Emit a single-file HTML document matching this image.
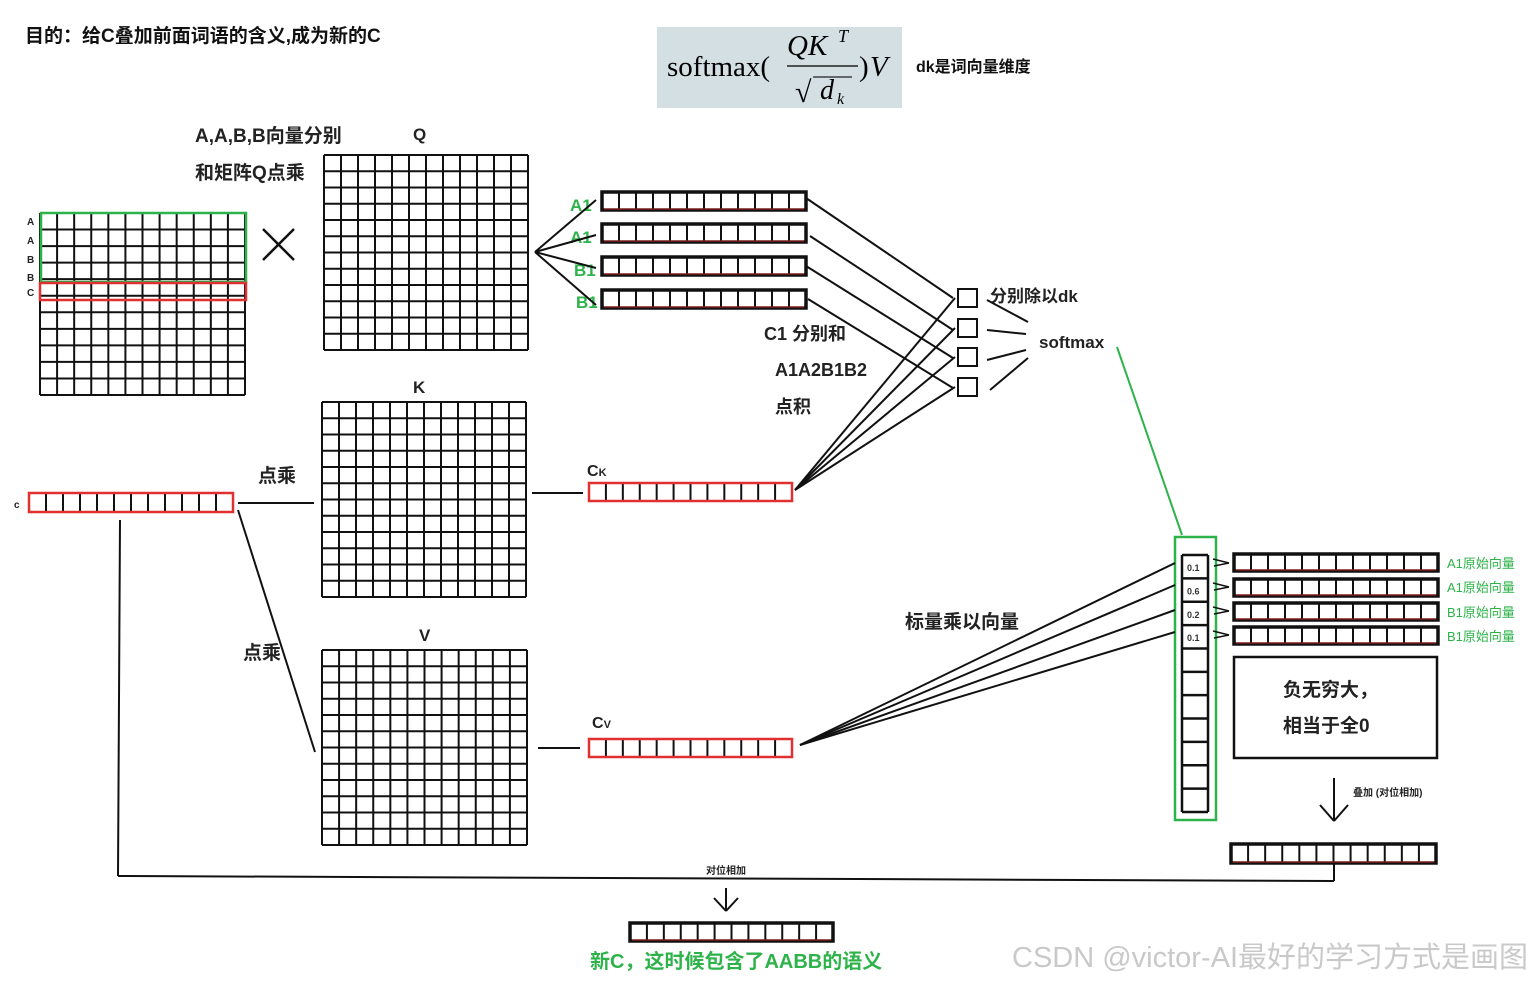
<!DOCTYPE html>
<html><head><meta charset="utf-8">
<style>
html,body{margin:0;padding:0;background:#fff;}
svg{display:block;}
text{font-family:"Liberation Sans","Noto Sans CJK SC",sans-serif;font-weight:bold;}
</style></head>
<body>
<svg id="s" width="1529" height="983" viewBox="0 0 1529 983" xmlns="http://www.w3.org/2000/svg">
<rect width="1529" height="983" fill="#fff"/>
<text x="25" y="42" font-size="19" fill="#111">目的：给C叠加前面词语的含义,成为新的C</text>
<rect x="657" y="27" width="245" height="81" fill="#d3dfe3"/>
<text x="667" y="76" font-size="29" style="font-family:'Liberation Serif',serif;font-weight:normal">softmax(</text>
<text x="787" y="55" style="font-family:'Liberation Serif',serif;font-weight:normal;font-style:italic" font-size="29">QK</text>
<text x="838" y="42" style="font-family:'Liberation Serif',serif;font-weight:normal;font-style:italic" font-size="18">T</text>
<line x1="787" y1="66" x2="858" y2="66" stroke="#222" stroke-width="1.5"/>
<text x="795" y="102" style="font-family:'Liberation Serif',serif;font-weight:normal" font-size="30">√</text>
<line x1="813" y1="77" x2="852" y2="77" stroke="#222" stroke-width="1.3"/>
<text x="820" y="99" style="font-family:'Liberation Serif',serif;font-weight:normal;font-style:italic" font-size="28">d</text>
<text x="837" y="104" style="font-family:'Liberation Serif',serif;font-weight:normal;font-style:italic" font-size="16">k</text>
<text x="859" y="76" style="font-family:'Liberation Serif',serif;font-weight:normal" font-size="29">)</text>
<text x="870" y="76" style="font-family:'Liberation Serif',serif;font-weight:normal;font-style:italic" font-size="29">V</text>
<text x="916" y="72" font-size="16" fill="#111">dk是词向量维度</text>

<text x="195" y="142" font-size="19" fill="#222">A,A,B,B向量分别</text>
<text x="195" y="179" font-size="19" fill="#222">和矩阵Q点乘</text>
<text x="413" y="140" font-size="17" fill="#222">Q</text>
<text x="413" y="393" font-size="17" fill="#222">K</text>
<text x="419" y="641" font-size="17" fill="#222">V</text>
<g font-size="10" fill="#222"><text x="27" y="225">A</text><text x="27" y="244">A</text><text x="27" y="263">B</text><text x="27" y="281">B</text><text x="27" y="296">C</text></g>
<line x1="263" y1="229" x2="294" y2="260" stroke="#111" stroke-width="2.5"/>
<line x1="294" y1="229" x2="263" y2="260" stroke="#111" stroke-width="2.5"/>
<text x="14" y="508" font-size="10" fill="#222">c</text>
<text x="258" y="482" font-size="19" fill="#222">点乘</text>
<text x="243" y="659" font-size="19" fill="#222">点乘</text>
<text x="587" y="476" font-size="16" fill="#222">C<tspan font-size="11">K</tspan></text>
<text x="592" y="728" font-size="16" fill="#222">C<tspan font-size="11">V</tspan></text>
<g font-size="17" fill="#2db34a"><text x="570" y="211">A1</text><text x="570" y="243">A1</text><text x="574" y="276">B1</text><text x="576" y="308">B1</text></g>
<g font-size="18" fill="#222"><text x="764" y="340">C1 分别和</text><text x="775" y="376">A1A2B1B2</text><text x="775" y="413">点积</text>
<text x="990" y="302" font-size="17">分别除以dk</text><text x="1039" y="348" font-size="17">softmax</text>
<text x="905" y="628" font-size="19">标量乘以向量</text>
<text x="1283" y="696" font-size="19">负无穷大，</text><text x="1283" y="732" font-size="19">相当于全0</text></g>
<g font-size="13" fill="#2db34a"><text x="1447" y="568" style="font-weight:normal">A1原始向量</text><text x="1447" y="592" style="font-weight:normal">A1原始向量</text><text x="1447" y="617" style="font-weight:normal">B1原始向量</text><text x="1447" y="641" style="font-weight:normal">B1原始向量</text></g>
<text x="1353" y="796" font-size="10" fill="#222">叠加 (对位相加)</text>
<text x="706" y="874" font-size="10" fill="#222">对位相加</text>
<text x="590" y="968" font-size="20" fill="#2db34a">新C，这时候包含了AABB的语义</text>
<text x="1012" y="967" font-size="29" fill="#c9c9c9" style="font-weight:normal">CSDN @victor-AI最好的学习方式是画图</text>
<g id="g" fill="none" stroke="#111" stroke-width="2"></g>
</svg>
<script>
var g=document.getElementById('g'),NS="http://www.w3.org/2000/svg";
function el(t,a){var e=document.createElementNS(NS,t);for(var k in a)e.setAttribute(k,a[k]);g.appendChild(e);return e;}
function L(x1,y1,x2,y2,c,w){el('line',{x1:x1,y1:y1,x2:x2,y2:y2,stroke:c||'#111','stroke-width':w||2});}
function grid(x,y,w,h,c,r,sw){for(var i=0;i<=c;i++)L(x+w*i/c,y,x+w*i/c,y+h,'#111',sw||2);for(var j=0;j<=r;j++)L(x,y+h*j/r,x+w,y+h*j/r,'#111',sw||2);}
function rect(x,y,w,h,c,sw){el('rect',{x:x,y:y,width:w,height:h,stroke:c,'stroke-width':sw||2,fill:'none'});}
grid(40,213,205,182,12,11);
rect(41,213,205,69,'#2db34a',2.5);rect(40,283,206,17,'#e03030',2.5);
grid(324,155,204,195,12,12);
grid(322,402,204,195,12,12);
grid(322,650,205,195,12,12);
function vec(x,y,w,h,red){grid(x,y,w,h,12,1,2);if(red==1)rect(x,y,w,h,'#e03030',2.5);if(red==2){rect(x,y,w,h,'#111',3.5);L(x+2,y+h-1,x+w-2,y+h-1,'#b02020',1);}}
vec(29,493,204,19,1);vec(589,483,203,18,1);vec(589,739,203,18,1);
[192,224,257,290].forEach(function(y){vec(602,y,204,18,2);});
[554,579,603,627].forEach(function(y){vec(1234,y,204,17,2);});
vec(1231,844,205,19,2);vec(630,923,203,18,2);
L(238,503,314,503);L(238,510,315,752);L(532,493,583,493);L(538,748,580,748);
[200,235,268,305].forEach(function(y){L(535,252,596,y);});
var sq=[289,319,348,378];sq.forEach(function(y){rect(958,y,19,18,'#111',2);});
L(806,198,953,298);L(810,236,953,330);L(806,266,953,358);L(808,299,953,388);
sq.forEach(function(y){L(795,490,955,y+9);});
L(987,300,1028,322);L(987,330,1026,334);L(987,360,1026,350);L(990,390,1028,358);
L(1117,347,1182,535,'#2db34a',2);
rect(1175,537,41,283,'#2db34a',2.5);
grid(1182,555,26,257,1,11,2.5);
var v=['0.1','0.6','0.2','0.1'];
for(var i=0;i<4;i++){var t=document.createElementNS(NS,'text');t.setAttribute('x',1187);t.setAttribute('y',571+i*23.4);t.setAttribute('font-size','9');t.setAttribute('fill','#333');t.textContent=v[i];document.getElementById('s').appendChild(t);}
[563,585,610,632].forEach(function(y){L(800,745,1175,y);});
[563,587,611,635].forEach(function(y){L(1213,y-4,1229,y,'#111',1.5);L(1229,y,1214,y+3,'#111',1.5);});
rect(1234,657,203,101,'#111',2.5);
L(1334,778,1334,820);L(1320,805,1334,821);L(1348,805,1334,821);
L(1334,863,1334,881);L(1334,881,118,876);L(120,520,118,876);
L(726,888,726,911);L(714,898,726,911);L(738,898,726,911);
</script>
</body></html>
